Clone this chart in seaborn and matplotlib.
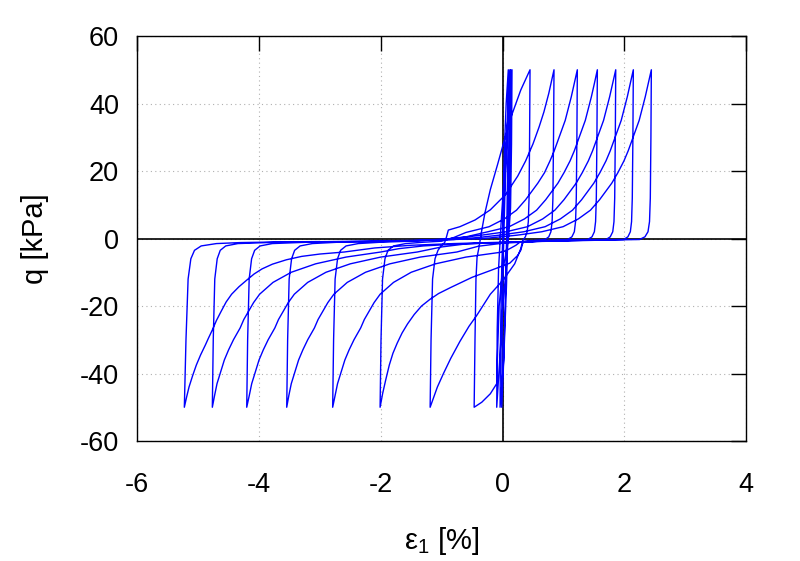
import matplotlib
matplotlib.use("Agg")
import matplotlib.pyplot as plt
import pandas as pd
import seaborn as sns

# Cyclic triaxial test: deviator stress q [kPa] vs axial strain eps1 [%].
# Each list is one half cycle, points as (eps1, q).
c01_up = [(0.0, 0.0), (0.01, 10.0), (0.03, 26.0), (0.06, 40.0), (0.095, 50.0)]
c01_down = [(0.095, 50.0), (0.087, 25.0), (0.072, 5.0), (0.05, -15.0), (0.02, -36.0), (-0.013, -50.0)]
c02_up = [(-0.013, -50.0), (-0.005, -28.0), (0.01, -8.0), (0.04, 14.0), (0.08, 35.0), (0.12, 50.0)]
c02_down = [(0.12, 50.0), (0.112, 28.0), (0.095, 6.0), (0.065, -14.0), (0.02, -36.0), (-0.04, -50.0)]
c03_up = [(-0.04, -50.0), (-0.032, -28.0), (-0.012, -8.0), (0.02, 8.0), (0.07, 30.0), (0.135, 50.0)]
c03_down = [(0.135, 50.0), (0.127, 27.0), (0.105, 6.0), (0.065, -8.0), (0.005, -20.0), (-0.05, -37.0),
            (-0.095, -50.0)]
c04_up = [(-0.095, -50.0), (-0.087, -27.0), (-0.065, -9.0), (-0.025, 4.0), (0.04, 22.0), (0.1, 39.0),
          (0.156, 50.0)]
c04_down = [(0.156, 50.0), (0.148, 28.0), (0.132, 9.0), (0.1, 0.5), (0.05, -5.0), (-0.01, -11.0),
            (-0.055, -20.0), (-0.08, -33.0), (-0.095, -43.0), (-0.2, -46.0), (-0.34, -48.5), (-0.466, -50.0)]
c05_up = [(-0.466, -50.0), (-0.452, -30.0), (-0.436, -12.0), (-0.418, -5.5), (-0.385, -2.5), (-0.35, 1.5),
          (-0.29, 7.5), (-0.2, 14.5), (-0.08, 22.0), (0.02, 28.5), (0.15, 36.5), (0.3, 44.0), (0.452, 50.0)]
c05_down = [(0.452, 50.0), (0.445, 30.0), (0.436, 12.0), (0.424, 5.0), (0.405, 2.0), (0.375, 0.5),
            (0.335, -0.5), (0.3, -3.0), (0.2, -7.5), (0.01, -12.3), (-0.2, -16.5), (-0.42, -22.7),
            (-0.55, -26.0), (-0.7, -30.5), (-0.85, -35.5), (-0.97, -40.0), (-1.07, -44.0), (-1.13, -47.0),
            (-1.189, -50.0)]
c06_up = [(-1.189, -50.0), (-1.174, -30.0), (-1.149, -12.0), (-1.109, -6.0), (-1.06, -3.5), (-1.0, -2.0),
          (-0.95, -1.2), (-0.92, 0.5), (-0.89, 2.5), (-0.7, 3.5), (-0.45, 5.5), (-0.2, 8.5), (0.05, 13.0),
          (0.25, 18.5), (0.38, 23.0), (0.5, 28.0), (0.6, 33.0), (0.68, 37.5), (0.76, 43.0), (0.846, 50.0)]
c06_down = [(0.846, 50.0), (0.838, 30.0), (0.828, 12.0), (0.815, 5.0), (0.795, 2.0), (0.76, 0.5),
            (0.7, -0.3), (0.5, -0.6), (0.36, -0.9), (0.33, -1.5), (0.3, -3.5), (0.25, -5.0), (0.12, -7.3),
            (-0.2, -9.5), (-0.5, -11.5), (-0.85, -14.5), (-1.05, -16.3), (-1.19, -18.0), (-1.33, -20.0),
            (-1.45, -22.5), (-1.56, -25.3), (-1.65, -28.0), (-1.73, -31.0), (-1.8, -34.0), (-1.86, -37.5),
            (-1.92, -42.0), (-1.97, -46.0), (-2.011, -50.0)]
c07_up = [(-2.011, -50.0), (-1.996, -30.0), (-1.971, -12.0), (-1.931, -6.0), (-1.881, -3.5), (-1.79, -2.2),
          (-1.59, -1.5), (-1.3, -1.1), (-1.0, -0.8), (-0.8, 0.3), (-0.6, 1.8), (-0.22, 3.5), (0.03, 5.8),
          (0.23, 8.4), (0.38, 11.5), (0.58, 16.4), (0.69, 19.5), (0.78, 23.0), (0.85, 26.0), (0.91, 29.0),
          (0.97, 32.0), (1.03, 35.0), (1.08, 38.5), (1.13, 42.0), (1.18, 46.0), (1.229, 50.0)]
c07_down = [(1.229, 50.0), (1.222, 30.0), (1.212, 12.0), (1.2, 5.0), (1.18, 2.0), (1.14, 0.5), (1.07, -0.3),
            (0.8, -0.5), (0.5, -0.7), (0.3, -0.9), (0.22, -2.0), (0.1, -3.2), (0.0, -4.0), (-0.6, -5.5),
            (-1.1, -7.5), (-1.5, -10.0), (-1.79, -13.0), (-2.01, -16.5), (-2.11, -19.0), (-2.19, -21.5),
            (-2.27, -24.0), (-2.33, -26.5), (-2.44, -30.0), (-2.52, -33.0), (-2.59, -36.0), (-2.65, -39.5),
            (-2.71, -43.0), (-2.75, -46.5), (-2.79, -50.0)]
c08_up = [(-2.79, -50.0), (-2.775, -30.0), (-2.75, -12.0), (-2.71, -6.0), (-2.66, -3.5), (-2.57, -2.2),
          (-2.37, -1.5), (-2.0, -1.1), (-1.5, -0.8), (-1.0, -0.3), (-0.6, 0.5), (-0.24, 2.0), (0.11, 3.5),
          (0.36, 5.8), (0.56, 8.4), (0.71, 11.5), (0.91, 16.4), (1.01, 19.5), (1.11, 23.0), (1.18, 26.0),
          (1.24, 29.0), (1.3, 32.0), (1.36, 35.0), (1.41, 38.5), (1.46, 42.0), (1.51, 46.0), (1.558, 50.0)]
c08_down = [(1.558, 50.0), (1.551, 30.0), (1.541, 12.0), (1.529, 5.0), (1.509, 2.0), (1.47, 0.5),
            (1.4, -0.3), (1.0, -0.5), (0.6, -0.8), (0.3, -1.1), (0.0, -1.4), (-0.4, -2.3), (-0.75, -4.0),
            (-1.35, -5.5), (-1.85, -7.5), (-2.25, -10.0), (-2.55, -13.0), (-2.77, -16.5), (-2.87, -19.0),
            (-2.95, -21.5), (-3.03, -24.0), (-3.09, -26.5), (-3.2, -30.0), (-3.28, -33.0), (-3.35, -36.0),
            (-3.41, -39.5), (-3.47, -43.0), (-3.51, -46.5), (-3.545, -50.0)]
c09_up = [(-3.545, -50.0), (-3.53, -30.0), (-3.505, -12.0), (-3.465, -6.0), (-3.415, -3.5), (-3.325, -2.2),
          (-3.125, -1.5), (-2.7, -1.1), (-2.0, -0.9), (-1.4, -0.6), (-0.8, 0.0), (-0.34, 1.0), (0.06, 2.0),
          (0.41, 3.5), (0.66, 5.8), (0.86, 8.4), (1.01, 11.5), (1.21, 16.4), (1.31, 19.5), (1.41, 23.0),
          (1.48, 26.0), (1.54, 29.0), (1.6, 32.0), (1.66, 35.0), (1.71, 38.5), (1.76, 42.0), (1.81, 46.0),
          (1.86, 50.0)]
c09_down = [(1.86, 50.0), (1.853, 30.0), (1.843, 12.0), (1.831, 5.0), (1.811, 2.0), (1.77, 0.5), (1.7, -0.3),
            (1.2, -0.5), (0.6, -0.8), (0.0, -1.2), (-0.6, -1.6), (-1.0, -2.5), (-1.4, -4.0), (-2.0, -5.5),
            (-2.5, -7.5), (-2.9, -10.0), (-3.2, -13.0), (-3.42, -16.5), (-3.52, -19.0), (-3.6, -21.5),
            (-3.68, -24.0), (-3.74, -26.5), (-3.85, -30.0), (-3.93, -33.0), (-4.0, -36.0), (-4.06, -39.5),
            (-4.12, -43.0), (-4.16, -46.5), (-4.202, -50.0)]
c10_up = [(-4.202, -50.0), (-4.187, -30.0), (-4.162, -12.0), (-4.122, -6.0), (-4.072, -3.5), (-3.982, -2.2),
          (-3.782, -1.5), (-3.2, -1.1), (-2.4, -0.9), (-1.6, -0.7), (-0.8, -0.3), (-0.4, 0.3), (-0.05, 1.0),
          (0.35, 2.0), (0.7, 3.5), (0.95, 5.8), (1.15, 8.4), (1.3, 11.5), (1.5, 16.4), (1.6, 19.5),
          (1.7, 23.0), (1.77, 26.0), (1.83, 29.0), (1.89, 32.0), (1.95, 35.0), (2.0, 38.5), (2.05, 42.0),
          (2.1, 46.0), (2.149, 50.0)]
c10_down = [(2.149, 50.0), (2.142, 30.0), (2.132, 12.0), (2.12, 5.0), (2.1, 2.0), (2.06, 0.5), (1.99, -0.3),
            (1.4, -0.5), (0.7, -0.8), (0.0, -1.2), (-0.7, -1.6), (-1.3, -2.2), (-1.7, -3.0), (-2.0, -4.0),
            (-2.57, -5.5), (-3.07, -7.5), (-3.47, -10.0), (-3.77, -13.0), (-3.99, -16.5), (-4.09, -19.0),
            (-4.17, -21.5), (-4.25, -24.0), (-4.31, -26.5), (-4.42, -30.0), (-4.5, -33.0), (-4.57, -36.0),
            (-4.63, -39.5), (-4.69, -43.0), (-4.73, -46.5), (-4.767, -50.0)]
c11_up = [(-4.767, -50.0), (-4.752, -30.0), (-4.727, -12.0), (-4.687, -6.0), (-4.637, -3.5), (-4.547, -2.2),
          (-4.347, -1.5), (-3.7, -1.1), (-2.8, -0.9), (-1.9, -0.7), (-1.0, -0.4), (-0.3, 0.0), (0.245, 1.0),
          (0.645, 2.0), (0.995, 3.5), (1.245, 5.8), (1.445, 8.4), (1.595, 11.5), (1.795, 16.4),
          (1.895, 19.5), (1.995, 23.0), (2.065, 26.0), (2.125, 29.0), (2.185, 32.0), (2.245, 35.0),
          (2.295, 38.5), (2.345, 42.0), (2.395, 46.0), (2.445, 50.0)]
c11_down = [(2.445, 50.0), (2.438, 30.0), (2.428, 12.0), (2.415, 5.0), (2.39, 2.0), (2.34, 0.5), (2.25, -0.3),
            (1.6, -0.5), (0.8, -0.8), (0.0, -1.1), (-0.8, -1.5), (-1.5, -2.0), (-2.1, -2.8), (-2.6, -4.0),
            (-3.0, -4.6), (-3.3, -5.3), (-3.55, -6.3), (-3.78, -7.6), (-3.95, -9.0), (-4.08, -10.5),
            (-4.2, -12.3), (-4.33, -14.3), (-4.45, -16.5), (-4.54, -18.8), (-4.62, -21.5), (-4.7, -24.3),
            (-4.767, -27.1), (-4.83, -29.5), (-4.88, -31.5), (-4.96, -34.5), (-5.03, -37.5), (-5.09, -40.6),
            (-5.15, -44.0), (-5.19, -47.0), (-5.227, -50.0)]
c12_up = [(-5.227, -50.0), (-5.2, -30.0), (-5.165, -12.0), (-5.12, -6.0), (-5.06, -3.5), (-4.95, -2.2),
          (-4.7, -1.5), (-4.3, -1.2), (-3.6, -1.0), (-3.0, -0.9)]

HALF_CYCLES = [c01_up, c01_down, c02_up, c02_down, c03_up, c03_down, c04_up, c04_down,
               c05_up, c05_down, c06_up, c06_down, c07_up, c07_down, c08_up, c08_down,
               c09_up, c09_down, c10_up, c10_down, c11_up, c11_down, c12_up]

X_TICKS = [-6, -4, -2, 0, 2, 4]
Y_TICKS = [-60, -40, -20, 0, 20, 40, 60]


def main():
    rows = []
    for seg in HALF_CYCLES:
        rows.extend(seg)
    df = pd.DataFrame(rows, columns=["eps1", "q"])

    sns.set_style("white")
    plt.rcParams["font.family"] = ["Liberation Sans", "DejaVu Sans"]
    plt.rcParams["axes.unicode_minus"] = False
    plt.rcParams["mathtext.default"] = "regular"
    plt.rcParams["text.color"] = "black"
    plt.rcParams["axes.labelcolor"] = "black"

    fig = plt.figure(figsize=(8, 5.61), dpi=100)
    ax = fig.add_axes([0.1716, 0.2139, 0.7609, 0.7219])

    # gnuplot-like look: dotted grid, zero axes, inward mirrored ticks
    ax.grid(True, color="#b0b0b0", linestyle=(0, (1, 3)), linewidth=0.8)
    ax.axhline(0, color="black", lw=1.2, zorder=1)
    ax.axvline(0, color="black", lw=1.2, zorder=1)

    sns.lineplot(data=df, x="eps1", y="q", sort=False, estimator=None,
                 color="#0000ff", lw=1.0, ax=ax, zorder=2)

    ax.set_xlim(-6, 4)
    ax.set_ylim(-60, 60)
    ax.set_xticks(X_TICKS)
    ax.set_yticks(Y_TICKS)
    ax.tick_params(axis="both", direction="in", length=11, width=1, top=True, right=True,
                   labelsize=19.5, colors="black")
    ax.tick_params(axis="x", pad=22)
    ax.tick_params(axis="y", pad=13)
    for s in ax.spines.values():
        s.set_color("black")
        s.set_linewidth(1)

    ax.set_xlabel("ε$_{1}$ [%]", fontsize=21, labelpad=20)
    ax.set_ylabel("q [kPa]", fontsize=21, labelpad=22)

    fig.savefig("out.png", dpi=100)
    plt.close(fig)


if __name__ == "__main__":
    main()
